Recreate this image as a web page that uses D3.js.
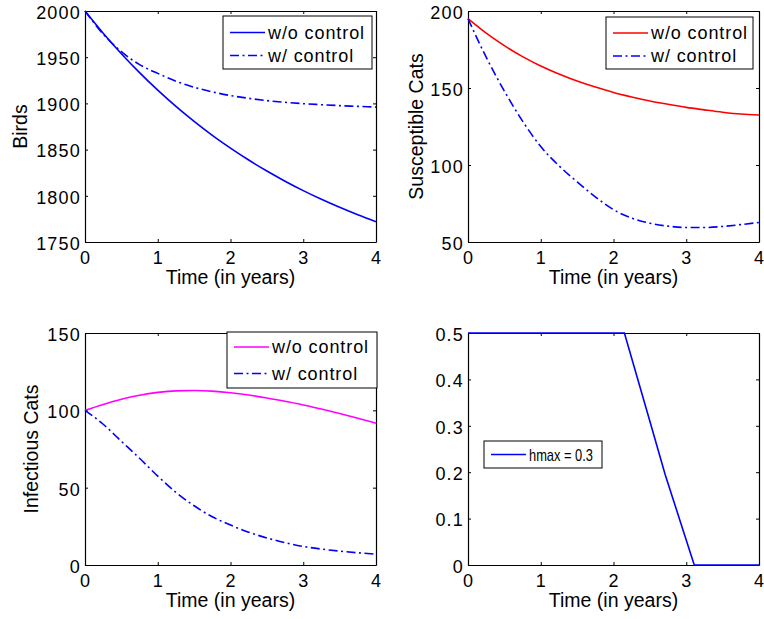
<!DOCTYPE html>
<html>
<head>
<meta charset="utf-8">
<script src="https://cdn.jsdelivr.net/npm/d3@7"></script>
<style>
  html, body { margin: 0; padding: 0; background: #fff; }
  svg { display: block; }
  text { font-family: "Liberation Sans", Arial, Helvetica, sans-serif; fill: #000; }
</style>
</head>
<body>
<svg id="chart" width="764" height="619"></svg>
<script>
// ---------------- data ----------------
const timeTicks = [0, 1, 2, 3, 4];
const timeGrid = [0, 0.25, 0.5, 0.75, 1, 1.25, 1.5, 1.75, 2, 2.25, 2.5, 2.75, 3, 3.25, 3.5, 3.75, 4];

const birdsNoControl = [2000, 1976, 1953.8, 1933.3, 1914.3, 1896.7, 1880.5, 1865.4, 1851.6, 1838.7, 1826.8, 1815.8, 1805.6, 1796.2, 1787.5, 1779.4, 1772];
const birdsControl   = [2000, 1975, 1956, 1942, 1932.5, 1924, 1917.5, 1912.5, 1908.5, 1905.5, 1903, 1901.2, 1899.7, 1898.6, 1897.6, 1896.8, 1896];
const birdsTicks = [1750, 1800, 1850, 1900, 1950, 2000];

const susNoControl = [195, 185.6, 177.5, 170.4, 164.3, 159.1, 154.5, 150.6, 147.1, 144.2, 141.6, 139.4, 137.4, 135.8, 134.3, 133.1, 132.5];
const susControl   = [195, 170, 148, 128.5, 112, 99.5, 89, 79.3, 71, 65.5, 62.2, 60.3, 59.4, 59.4, 60.1, 61.3, 62.7];
const susTicks = [50, 100, 150, 200];

const infNoControl = [100, 103.8, 107.2, 109.8, 111.6, 112.6, 112.8, 112.4, 111.4, 109.9, 108, 105.9, 103.5, 100.9, 98, 94.9, 91.7];
const infControl   = [100, 91, 80, 69, 57.5, 47, 38.3, 31.2, 25.8, 21.2, 17.5, 14.4, 12, 10.3, 9, 7.9, 7];
const infTicks = [0, 50, 100, 150];

const controlTime  = [0, 2.15, 2.5, 2.71, 3.11, 4];
const controlValue = [0.5, 0.5, 0.31, 0.195, 0, 0];
const controlTicks = [0, 0.1, 0.2, 0.3, 0.4, 0.5];

const legendNo = "w/o control";
const legendWith = "w/ control";
const legendControl = "hmax = 0.3";
const xLabel = "Time (in years)";

// ---------------- drawing ----------------
const svg = d3.select("#chart");
svg.append("rect").attr("width", 764).attr("height", 619).attr("fill", "#fff");

const TICK_FS = 18, LABEL_FS = 19.5, LEG_FS = 18;
const DASHDOT = "9,3.5,2,3.5";

function zip(xs, ys) { return xs.map((t, i) => ({ t, v: ys[i] })); }

function panel(cfg) {
  const g = svg.append("g");
  const x = d3.scaleLinear().domain([0, 4]).range([cfg.left, cfg.right]);
  const y = d3.scaleLinear().domain(cfg.yDomain).range([cfg.bottom, cfg.top]);

  const gb = g.append("g").attr("transform", `translate(0,${cfg.bottom})`)
    .call(d3.axisBottom(x).tickValues(timeTicks).tickFormat(d3.format("d")).tickSize(-3).tickSizeOuter(0).tickPadding(9));
  const gt = g.append("g").attr("transform", `translate(0,${cfg.top})`)
    .call(d3.axisTop(x).tickValues(timeTicks).tickFormat("").tickSize(-3).tickSizeOuter(0));
  const gl = g.append("g").attr("transform", `translate(${cfg.left},0)`)
    .call(d3.axisLeft(y).tickValues(cfg.yTicks).tickFormat(cfg.fmt).tickSize(-3).tickSizeOuter(0).tickPadding(4));
  const gr = g.append("g").attr("transform", `translate(${cfg.right},0)`)
    .call(d3.axisRight(y).tickValues(cfg.yTicks).tickFormat("").tickSize(-3).tickSizeOuter(0));

  [gb, gt, gl, gr].forEach(a => {
    a.select(".domain").attr("stroke", "#000").attr("stroke-width", 1.2);
    a.selectAll(".tick line").attr("stroke", "#000").attr("stroke-width", 1);
    a.selectAll(".tick text").attr("font-size", TICK_FS).attr("font-family", "Liberation Sans, Arial, sans-serif")
      .style("letter-spacing", "1.2px").attr("fill", "#000");
  });
  gl.selectAll(".tick text").attr("dy", "0.41em");

  g.append("text").attr("x", (cfg.left + cfg.right) / 2).attr("y", cfg.bottom + 42)
    .attr("text-anchor", "middle").attr("font-size", LABEL_FS).text(xLabel);
  if (cfg.yLabel) {
    const lx = cfg.left - cfg.yLabelOff, ly = (cfg.top + cfg.bottom) / 2;
    g.append("text").attr("transform", `translate(${lx},${ly}) rotate(-90)`)
      .attr("text-anchor", "middle").attr("font-size", LABEL_FS).text(cfg.yLabel);
  }

  cfg.series.forEach(s => {
    const line = d3.line().x(d => x(d.t)).y(d => y(d.v)).curve(s.curve || d3.curveMonotoneX);
    g.append("path").datum(zip(s.t, s.v)).attr("fill", "none")
      .attr("stroke", s.color).attr("stroke-width", 1.6)
      .attr("stroke-dasharray", s.dash || null).attr("d", line);
  });

  const L = cfg.legend;
  const lg = g.append("g");
  lg.append("rect").attr("x", L.x).attr("y", L.y).attr("width", L.w).attr("height", L.h)
    .attr("fill", "#fff").attr("stroke", "#000").attr("stroke-width", 1);
  cfg.series.forEach((s, i) => {
    const ry = L.y + L.row0 + i * L.rowGap;
    lg.append("line").attr("x1", L.x + 7).attr("x2", L.x + 42).attr("y1", ry).attr("y2", ry)
      .attr("stroke", s.color).attr("stroke-width", 1.6).attr("stroke-dasharray", s.dash || null);
    const t = lg.append("text").attr("x", L.x + 45).attr("y", ry + (L.dy || 6)).attr("font-size", L.fs || LEG_FS)
      .style("letter-spacing", (L.ls != null ? L.ls : 0.9) + "px").text(s.name);
    if (L.family) t.style("font-family", L.family);
    if (L.tl) t.attr("textLength", L.tl).attr("lengthAdjust", "spacingAndGlyphs");
  });
}

const fmtInt = d3.format("d");
const fmtDec = d => d === 0 ? "0" : d3.format(".1f")(d);

panel({
  left: 85, right: 376, top: 11, bottom: 242,
  yDomain: [1750, 2000], yTicks: birdsTicks, fmt: fmtInt,
  yLabel: "Birds", yLabelOff: 58,
  series: [
    { name: legendNo, t: timeGrid, v: birdsNoControl, color: "#0000ff" },
    { name: legendWith, t: timeGrid, v: birdsControl, color: "#0000ff", dash: DASHDOT }
  ],
  legend: { x: 223, y: 16, w: 149, h: 53, row0: 16.5, rowGap: 23 }
});

panel({
  left: 468, right: 759, top: 11, bottom: 242,
  yDomain: [50, 200], yTicks: susTicks, fmt: fmtInt,
  yLabel: "Susceptible Cats", yLabelOff: 45,
  series: [
    { name: legendNo, t: timeGrid, v: susNoControl, color: "#ff0000" },
    { name: legendWith, t: timeGrid, v: susControl, color: "#0000ff", dash: DASHDOT }
  ],
  legend: { x: 606, y: 17, w: 147, h: 52, row0: 16, rowGap: 23 }
});

panel({
  left: 85, right: 376, top: 333, bottom: 565,
  yDomain: [0, 150], yTicks: infTicks, fmt: fmtInt,
  yLabel: "Infectious Cats", yLabelOff: 47,
  series: [
    { name: legendNo, t: timeGrid, v: infNoControl, color: "#ff00ff" },
    { name: legendWith, t: timeGrid, v: infControl, color: "#0000ff", dash: DASHDOT }
  ],
  legend: { x: 227, y: 332, w: 150, h: 56, row0: 15, rowGap: 26.5 }
});

panel({
  left: 468, right: 759, top: 333, bottom: 565,
  yDomain: [0, 0.5], yTicks: controlTicks, fmt: fmtDec,
  yLabel: null,
  series: [
    { name: legendControl, t: controlTime, v: controlValue, color: "#0000ff", curve: d3.curveLinear }
  ],
  legend: { x: 484, y: 441, w: 118, h: 27, row0: 13.5, rowGap: 0, fs: 17, ls: 0, tl: 64, dy: 6,
            family: "'Liberation Sans Narrow', 'Liberation Sans', Arial, sans-serif" }
});
</script>
</body>
</html>
